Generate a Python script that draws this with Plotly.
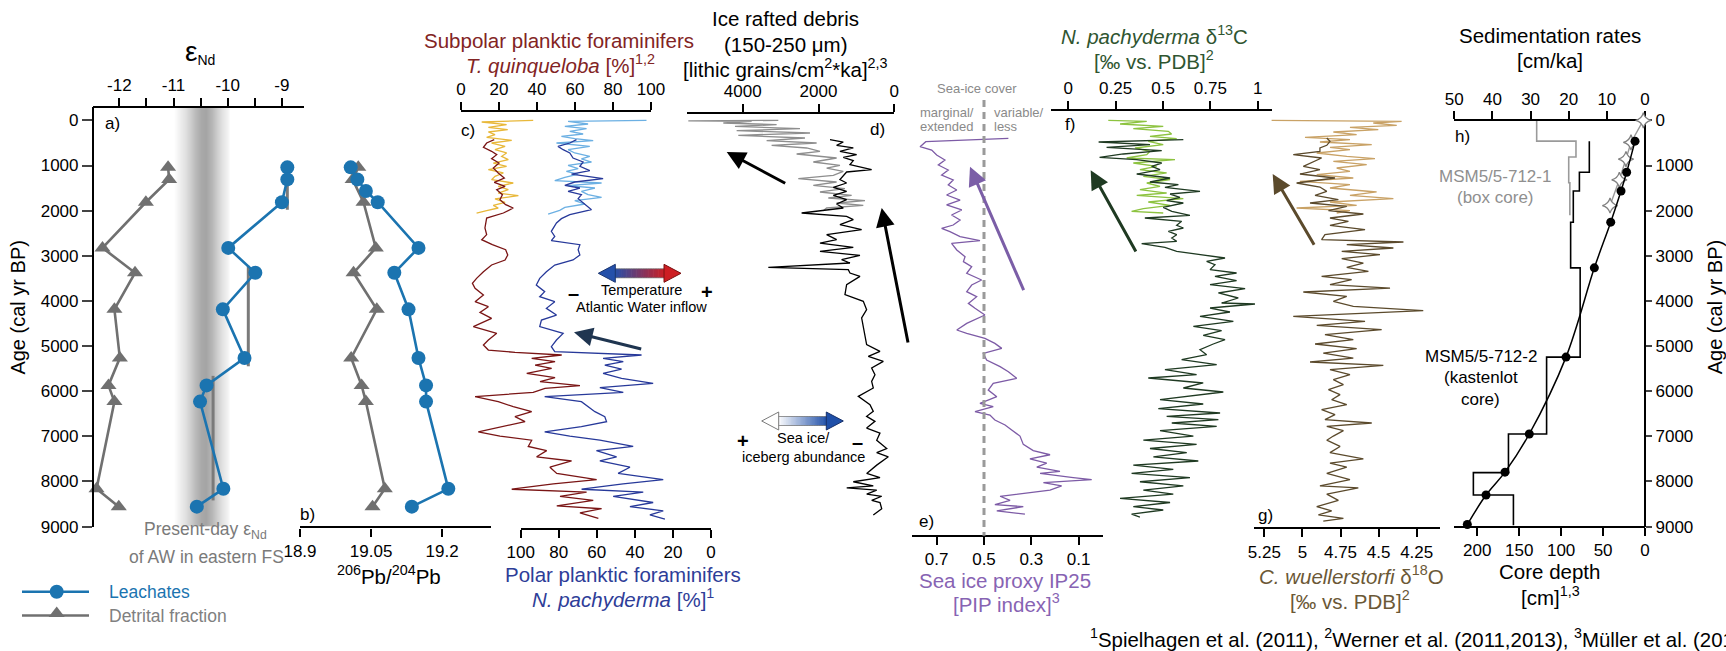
import plotly.graph_objects as go

# ---------------- DATA ----------------
# (a) eNd
a_age = [1040, 1307, 1813, 2825, 3377, 4187, 5264, 5871, 6230, 8163, 8558]
a_leach = [-8.90, -8.90, -9.00, -9.99, -9.49, -10.09, -9.69, -10.39, -10.51, -10.08, -10.57]
a_detr = [-11.10, -11.08, -11.51, -12.31, -11.71, -12.09, -11.99, -12.20, -12.09, -12.42, -12.01]
a_mean_val = [-8.90, -9.62, -10.27]
a_mean_top = [966, 3221, 5660]
a_mean_bot = [1978, 5448, 8420]
aw_band_age = [1000, 9000]
aw_band_x = [-11.0, -10.9, -10.8, -10.7, -10.6, -10.5, -10.4, -10.3, -10.2, -10.1, -10.0, -9.96]
aw_band_level = [0.0, 0.15, 0.32, 0.52, 0.75, 0.95, 1.0, 0.8, 0.55, 0.32, 0.12, 0.0]
a_ticks = [-12.5, -12, -11.5, -11, -10.5, -10, -9.5, -9]
a_ticktext = ["", "-12", "", "-11", "", "-10", "", "-9"]

# (b) 206Pb/204Pb
b_leach_age = [1040, 1307, 1564, 1813, 2825, 3377, 4187, 5264, 5871, 6230, 8163, 8558]
b_leach = [19.007, 19.021, 19.039, 19.064, 19.150, 19.099, 19.129, 19.150, 19.166, 19.166, 19.213, 19.136]
b_detr_age = [1040, 1307, 1813, 2825, 3377, 4187, 5264, 5871, 6230, 8163, 8558]
b_detr = [19.023, 19.011, 19.034, 19.060, 19.013, 19.062, 19.008, 19.030, 19.039, 19.079, 19.053]
b_ticks = [18.9, 19.05, 19.2]
b_ticktext = ["18.9", "19.05", "19.2"]

# (c) T. quinqueloba (kastenlot, box core) and N. pachyderma (kastenlot, box core)
tq_age = [427, 501, 597, 685, 759, 848, 944, 1055, 1165, 1276, 1372, 1461, 1535, 1646, 1756, 1867, 1941, 2052,
          2163, 2384, 2532, 2643, 2754, 2864, 2982, 3093, 3204, 3352, 3500, 3610, 3721, 3869, 4017, 4127, 4253,
          4386, 4570, 4718, 4866, 4977, 5088, 5139, 5198, 5272, 5346, 5420, 5494, 5605, 5700, 5789, 5878, 5937,
          6025, 6121, 6232, 6343, 6454, 6565, 6675, 6786, 6902, 6994, 7086, 7224, 7316, 7454, 7546, 7684, 7822,
          7960, 8052, 8172, 8236, 8328, 8420, 8540, 8604, 8696, 8816]
tq_val = [17.5, 13.5, 11.8, 16.1, 18.8, 16.1, 20.0, 17.0, 19.6, 22.8, 17.5, 23.2, 18.8, 21.8, 20.5, 23.5, 27.5, 22.3,
          13.5, 12.6, 13.5, 10.9, 16.5, 23.5, 24.6, 23.2, 16.1, 11.8, 8.2, 6.0, 7.4, 11.8, 7.4, 14.4, 10.0,
          16.1, 6.5, 18.8, 14.4, 11.8, 14.4, 28.4, 53.0, 37.2, 49.5, 39.0, 47.7, 34.6, 49.5, 41.6, 62.6, 44.2,
          38.0, 7.4, 19.6, 27.5, 37.2, 28.4, 33.7, 21.4, 9.1, 20.5, 37.2, 35.4, 45.1, 39.8, 58.2, 46.8, 50.4,
          71.4, 48.6, 26.7, 66.1, 52.1, 69.6, 50.4, 74.0, 62.6, 72.3]
tqb_age = [0, 35, 94, 153, 205, 257, 316, 375, 442, 501, 575, 649, 722, 796, 870, 944, 1018, 1092, 1165, 1239,
           1313, 1387, 1461, 1535, 1609, 1668, 1741, 1815, 1882, 1941, 2000, 2052]
tqb_val = [38.0, 10.9, 24.0, 14.4, 24.6, 14.4, 17.9, 13.5, 26.7, 16.1, 23.2, 17.9, 24.0, 21.4, 24.9, 17.0, 24.0,
           14.4, 22.3, 17.9, 16.1, 27.5, 19.6, 24.9, 19.6, 30.2, 17.9, 23.2, 17.0, 19.6, 13.5, 8.2]
np_age = [427, 501, 575, 649, 722, 833, 922, 1018, 1114, 1188, 1291, 1365, 1439, 1498, 1572, 1646, 1734, 1830,
          1978, 2089, 2177, 2273, 2458, 2569, 2665, 2754, 2864, 2982, 3093, 3204, 3352, 3500, 3647, 3795, 3906,
          4017, 4164, 4312, 4423, 4570, 4718, 4866, 5014, 5125, 5198, 5272, 5346, 5420, 5509, 5605, 5715, 5826,
          5922, 6025, 6121, 6232, 6343, 6454, 6565, 6675, 6786, 6902, 6994, 7086, 7224, 7316, 7454, 7546, 7684,
          7822, 7960, 8052, 8172, 8236, 8328, 8466, 8558, 8650, 8742, 8834]
np_val = [70.7, 74.2, 80.4, 77.7, 74.2, 72.5, 67.2, 68.9, 63.7, 73.3, 56.7, 71.6, 76.8, 68.9, 75.1, 68.1, 69.8, 67.2,
          62.8, 74.2, 78.6, 81.2, 83.9, 82.1, 83.9, 68.9, 69.8, 68.9, 72.5, 82.1, 86.5, 90.0, 91.8, 87.4, 90.0,
          82.1, 86.5, 81.2, 89.1, 90.0, 77.7, 81.2, 83.9, 82.1, 36.5, 56.7, 46.1, 55.8, 47.0, 56.7, 47.0, 30.4,
          58.4, 46.1, 87.4, 68.1, 64.6, 61.0, 55.8, 54.9, 68.1, 87.4, 74.2, 58.4, 40.9, 60.2, 49.6, 58.4, 42.6,
          48.8, 25.1, 46.2, 68.0, 35.6, 51.4, 30.4, 42.6, 25.1, 32.1, 24.2]
npb_age = [0, 21, 80, 131, 183, 242, 301, 353, 405, 449, 501, 575, 649, 722, 796, 855, 922, 996, 1069, 1129,
           1188, 1261, 1335, 1387, 1446, 1498, 1572, 1646, 1705, 1779, 1852, 1926, 1993, 2074]
npb_val = [33.9, 75.1, 64.6, 76.8, 65.4, 74.2, 67.2, 78.6, 71.6, 61.9, 81.2, 63.7, 75.1, 71.6, 63.7, 68.1, 62.8,
           75.1, 69.8, 76.0, 69.8, 76.8, 82.1, 57.5, 75.1, 61.0, 68.1, 64.6, 57.5, 71.6, 66.3, 76.8, 79.5, 85.6]
c_ticks = [0, 20, 40, 60, 80, 100]

# (d) IRD
ird_age = [427, 479, 552, 611, 685, 759, 818, 892, 981, 1092, 1143, 1217, 1313, 1387, 1483, 1572, 1660, 1756,
           1852, 1941, 2052, 2126, 2200, 2310, 2421, 2532, 2643, 2717, 2813, 2901, 2990, 3086, 3160, 3256, 3307,
           3381, 3455, 3640, 3861, 4009, 4194, 4378, 4600, 4969, 5117, 5228, 5339, 5486, 5634, 5782, 5929, 6114,
           6299, 6447, 6557, 6668, 6816, 6927, 7086, 7270, 7362, 7454, 7638, 7822, 7914, 8006, 8098, 8144, 8190,
           8282, 8328, 8420, 8466, 8604, 8742]
ird_val = [1697, 1346, 1522, 1082, 1434, 994, 1346, 1082, 1170, 598, 1258, 1346, 1434, 1258, 1609, 1258, 1609,
           1258, 1522, 1346, 2445, 1258, 1082, 1434, 862, 1785, 1522, 1961, 1082, 1961, 906, 1390, 1170, 3324,
           1214, 1170, 906, 1258, 1302, 818, 730, 862, 818, 730, 378, 686, 290, 598, 510, 598, 554, 950, 642,
           554, 730, 510, 730, 378, 464, 200, 464, 158, 464, 728, 377, 1082, 554, 1256, 464, 728, 332, 596, 377,
           332, 554]
irdb_age = [0, 10, 21, 58, 94, 131, 183, 227, 279, 331, 390, 449, 501, 552, 611, 685, 744, 833, 922, 996, 1055,
            1129, 1217, 1291, 1365, 1439, 1513, 1586, 1660, 1719, 1779, 1830, 1882, 1941, 2000]
irdb_val = [3060, 5435, 3764, 4512, 3105, 4204, 2489, 4160, 2225, 4116, 2357, 3369, 2049, 3237, 2313, 1961, 2577,
            1522, 2137, 1434, 1785, 1346, 1609, 2533, 1522, 2137, 1302, 1961, 1126, 1741, 774, 1522, 818, 1785,
            1873]
d_ticks = [4000, 2000, 0]

# (e) IP25 PIP index
ip_age = [397, 471, 582, 656, 767, 877, 988, 1099, 1210, 1321, 1431, 1542, 1653, 1764, 1874, 1985, 2096, 2207,
          2318, 2392, 2465, 2576, 2665, 2724, 2872, 3020, 3130, 3241, 3389, 3536, 3647, 3795, 3906, 4054, 4164,
          4312, 4497, 4644, 4718, 4829, 4940, 5051, 5162, 5309, 5457, 5568, 5715, 5826, 5974, 6121, 6269, 6343,
          6454, 6528, 6638, 6749, 6860, 6994, 7178, 7316, 7408, 7500, 7592, 7684, 7776, 7822, 7914, 7960, 8024,
          8098, 8190, 8282, 8328, 8420, 8512, 8558, 8650, 8724]
ip_val = [0.397, 0.746, 0.770, 0.721, 0.700, 0.665, 0.693, 0.651, 0.679, 0.630, 0.651, 0.615, 0.658, 0.601, 0.658,
          0.594, 0.637, 0.601, 0.630, 0.679, 0.644, 0.601, 0.517, 0.637, 0.615, 0.580, 0.587, 0.552, 0.573, 0.510,
          0.552, 0.573, 0.531, 0.566, 0.538, 0.496, 0.573, 0.615, 0.573, 0.496, 0.454, 0.425, 0.503, 0.489, 0.432,
          0.397, 0.362, 0.461, 0.482, 0.446, 0.517, 0.461, 0.538, 0.475, 0.454, 0.411, 0.383, 0.348, 0.334, 0.292,
          0.221, 0.306, 0.235, 0.277, 0.179, 0.263, 0.123, 0.045, 0.249, 0.172, 0.221, 0.348, 0.432, 0.390, 0.454,
          0.334, 0.446, 0.327]
e_ticks = [0.7, 0.5, 0.3, 0.1]
pip_threshold = 0.5

# (f) N. pachyderma d13C
d13_age = [427, 479, 538, 597, 671, 744, 818, 870, 944, 1018, 1092, 1188, 1276, 1365, 1424, 1483, 1572, 1631,
           1705, 1779, 1830, 1926, 2015, 2103, 2163, 2236, 2325, 2384, 2458, 2532, 2606, 2680, 2731, 2813, 2901,
           2975, 3049, 3123, 3197, 3307, 3381, 3455, 3551, 3640, 3728, 3824, 3935, 4046, 4068, 4157, 4245, 4341,
           4452, 4563, 4659, 4762, 4858, 4954, 5080, 5191, 5302, 5412, 5523, 5634, 5708, 5818, 5929, 6018, 6114,
           6188, 6284, 6388, 6483, 6557, 6631, 6705, 6779, 6875, 6994, 7086, 7178, 7270, 7362, 7454, 7546, 7638,
           7730, 7822, 7914, 8006, 8098, 8190, 8282, 8374, 8466, 8558, 8632, 8724, 8788]
d13_val = [0.607, 0.160, 0.431, 0.202, 0.493, 0.290, 0.165, 0.361, 0.493, 0.440, 0.484, 0.361, 0.537, 0.431, 0.581,
           0.510, 0.695, 0.537, 0.589, 0.519, 0.607, 0.501, 0.546, 0.642, 0.404, 0.598, 0.572, 0.607, 0.528, 0.572,
           0.546, 0.572, 0.387, 0.510, 0.572, 0.695, 0.827, 0.730, 0.774, 0.748, 0.888, 0.774, 0.888, 0.748, 0.933,
           0.792, 0.897, 0.809, 0.985, 0.748, 0.853, 0.695, 0.871, 0.660, 0.809, 0.712, 0.827, 0.765, 0.695, 0.730,
           0.598, 0.783, 0.510, 0.677, 0.422, 0.712, 0.607, 0.818, 0.642, 0.484, 0.712, 0.475, 0.801, 0.519, 0.792,
           0.546, 0.783, 0.484, 0.660, 0.396, 0.677, 0.431, 0.625, 0.449, 0.686, 0.343, 0.554, 0.334, 0.642, 0.378,
           0.607, 0.396, 0.554, 0.273, 0.537, 0.343, 0.501, 0.334, 0.378]
d13b_age = [0, 21, 80, 131, 183, 242, 301, 353, 405, 464, 538, 611, 685, 759, 833, 870, 944, 1018, 1092, 1165,
            1239, 1313, 1387, 1461, 1535, 1609, 1660, 1734, 1808, 1882, 1956, 2015, 2052]
d13b_val = [0.211, 0.414, 0.273, 0.501, 0.343, 0.528, 0.545, 0.431, 0.572, 0.422, 0.501, 0.352, 0.431, 0.414,
            0.308, 0.563, 0.343, 0.466, 0.378, 0.519, 0.396, 0.537, 0.414, 0.484, 0.378, 0.519, 0.361, 0.607,
            0.422, 0.537, 0.396, 0.334, 0.501]
f_ticks = [0, 0.25, 0.5, 0.75, 1]
f_ticktext = ["0", "0.25", "0.5", "0.75", "1"]

# (g) C. wuellerstorfi d18O
d18_age = [390, 464, 552, 611, 685, 759, 833, 922, 1018, 1092, 1188, 1276, 1387, 1476, 1572, 1660, 1756, 1830,
           1904, 2000, 2074, 2163, 2236, 2325, 2421, 2532, 2643, 2694, 2754, 2827, 2901, 2975, 3064, 3160, 3256,
           3344, 3455, 3529, 3640, 3714, 3802, 3898, 4009, 4120, 4216, 4341, 4452, 4541, 4637, 4748, 4858, 4954,
           5057, 5154, 5265, 5353, 5427, 5523, 5634, 5745, 5856, 5966, 6077, 6188, 6299, 6410, 6520, 6631, 6705,
           6779, 6875, 6994, 7086, 7224, 7362, 7500, 7592, 7684, 7822, 7960, 8098, 8144, 8282, 8420, 8558, 8650,
           8742, 8816, 8880]
d18_val = [4.840, 4.819, 4.840, 4.885, 4.885, 5.060, 4.874, 4.928, 4.994, 4.885, 5.016, 4.786, 5.038, 4.885, 4.840,
           4.917, 4.764, 4.950, 4.709, 4.829, 4.600, 4.819, 4.698, 4.819, 4.589, 4.852, 4.874, 4.337, 4.709, 4.403,
           4.742, 4.491, 4.742, 4.600, 4.709, 4.567, 4.874, 4.677, 4.819, 4.425, 4.994, 4.709, 4.797, 4.666, 4.207,
           5.060, 4.589, 4.906, 4.480, 4.852, 4.666, 4.917, 4.644, 4.863, 4.666, 4.950, 4.469, 4.819, 4.688, 4.797,
           4.731, 4.829, 4.753, 4.808, 4.709, 4.874, 4.786, 4.852, 4.545, 4.840, 4.731, 4.797, 4.840, 4.753, 4.819,
           4.600, 4.819, 4.709, 4.840, 4.688, 4.885, 4.633, 4.840, 4.764, 4.906, 4.808, 4.895, 4.731, 4.863]
d18b_age = [0, 21, 58, 109, 153, 205, 257, 316, 375, 427, 479, 538, 597, 649, 722, 796, 848, 907, 981, 1055, 1129,
            1202, 1276, 1350, 1424, 1498, 1586, 1660, 1734, 1808, 1882, 1941, 2000, 2052]
d18b_val = [5.202, 4.349, 4.535, 4.381, 4.688, 4.502, 4.797, 4.644, 4.983, 4.688, 4.885, 4.545, 4.819, 4.688,
            4.906, 4.709, 4.524, 4.797, 4.578, 4.775, 4.688, 4.906, 4.666, 5.016, 4.688, 4.819, 4.513, 4.688,
            4.403, 4.819, 4.644, 5.038, 4.688, 4.775]
g_ticks = [5.25, 5, 4.75, 4.5, 4.25]
g_ticktext = ["5.25", "5", "4.75", "4.5", "4.25"]

# (h) sedimentation rates and age-depth
sr_box_bounds = [0, 460, 810, 1380, 2100]
sr_box_rate = [28.4, 18.1, 20.0, 19.7]
sr_kl_bounds = [460, 1150, 1564, 2255, 3267, 5245, 6948, 7804, 8301, 8972]
sr_kl_rate = [14.6, 17.2, 18.8, 19.5, 17.0, 25.8, 35.8, 45.0, 34.5]
ad_age = [460, 1150, 1564, 2255, 3267, 5245, 6948, 7794, 8301, 8954]
ad_depth = [11.9, 21.9, 28.6, 40.9, 60.4, 94.2, 138.0, 167.0, 189.6, 211.9]
box_age = [0, 488, 856, 1316, 1886]
box_depth = [2.0, 16.7, 22.7, 30.6, 41.7]
h_top_ticks = [50, 40, 30, 20, 10, 0]
h_bot_ticks = [200, 150, 100, 50, 0]
age_ticks = [0, 1000, 2000, 3000, 4000, 5000, 6000, 7000, 8000, 9000]

# ---------------- LAYOUT HELPERS ----------------
W, H = 1726, 651
def fx(p): return p / W
def fy(p): return 1 - p / H

AGE0_PX, AGE9_PX = 120.4, 526.6
PX_PER_YR = (AGE9_PX - AGE0_PX) / 9000.0
def age_at(py): return (py - AGE0_PX) / PX_PER_YR

FONT = "Liberation Sans, Arial, Helvetica, sans-serif"
TICKF = 17

def xax(d0, d1, rng, pos_py, side, tickvals, ticktext=None):
    return dict(domain=[fx(d0), fx(d1)], range=rng, anchor="free", position=fy(pos_py), side=side,
                showline=True, linecolor="black", linewidth=2.2, ticks="outside", ticklen=8,
                tickwidth=1.5, tickcolor="black", tickvals=tickvals,
                ticktext=ticktext if ticktext is not None else [str(v) for v in tickvals],
                tickfont=dict(size=TICKF, color="black", family=FONT), showgrid=False, zeroline=False,
                fixedrange=True)

fig = go.Figure()

def line(x, y, xa, color, width=1.3, ya="y", shape="linear"):
    fig.add_trace(go.Scatter(x=x, y=y, xaxis=xa, yaxis=ya, mode="lines",
                             line=dict(color=color, width=width, shape=shape), hoverinfo="skip",
                             showlegend=False))

# (a) shading band
fig.add_trace(go.Heatmap(x=aw_band_x, y=aw_band_age, z=[aw_band_level, aw_band_level], xaxis="x", yaxis="y",
                         colorscale=[[0, "rgb(255,255,255)"], [1, "rgb(165,165,165)"]], zmin=0, zmax=1,
                         showscale=False, zsmooth="best", hoverinfo="skip"))
mx, my = [], []
for v, t, b in zip(a_mean_val, a_mean_top, a_mean_bot):
    mx += [v, v, None]
    my += [t, b, None]
line(mx, my, "x", "#7a7a7a", 3)

BLUE = "#1b74b0"
GRAY = "#707070"
for xs, ys, xa in [(a_detr, a_age, "x"), (b_detr, b_detr_age, "x2")]:
    fig.add_trace(go.Scatter(x=xs, y=ys, xaxis=xa, yaxis="y", mode="lines+markers",
                             line=dict(color=GRAY, width=2.6),
                             marker=dict(symbol="triangle-up", size=14, color=GRAY),
                             hoverinfo="skip", showlegend=False, cliponaxis=False))
for xs, ys, xa in [(a_leach, a_age, "x"), (b_leach, b_leach_age, "x2")]:
    fig.add_trace(go.Scatter(x=xs, y=ys, xaxis=xa, yaxis="y", mode="lines+markers",
                             line=dict(color=BLUE, width=2.6),
                             marker=dict(symbol="circle", size=14, color=BLUE),
                             hoverinfo="skip", showlegend=False, cliponaxis=False))

# (c)
line(tqb_val, tqb_age, "x3", "#e8b83a")
line(tq_val, tq_age, "x3", "#7a1515")
line(npb_val, npb_age, "x4", "#6cb0e3")
line(np_val, np_age, "x4", "#27399a")
# (d)
line(irdb_val, irdb_age, "x5", "#8e8e8e")
line(ird_val, ird_age, "x5", "#000000")
# (e)
line(ip_val, ip_age, "x6", "#7d5ba6")
# (f)
line(d13b_val, d13b_age, "x7", "#8dc340")
line(d13_val, d13_age, "x7", "#1f3a22")
# (g)
line(d18b_val, d18b_age, "x8", "#c9a266")
line(d18_val, d18_age, "x8", "#5b4a2c")

# (h)
def steps(bounds, rates):
    xs, ys = [], []
    for i, r in enumerate(rates):
        xs += [r, r]
        ys += [bounds[i], bounds[i + 1]]
    return xs, ys
sx, sy = steps(sr_box_bounds, sr_box_rate)
line(sx, sy, "x9", "#9a9a9a", 1.6, ya="y2")
sx, sy = steps(sr_kl_bounds, sr_kl_rate)
line(sx, sy, "x9", "#000000", 1.6, ya="y2")
fig.add_trace(go.Scatter(x=box_depth, y=box_age, xaxis="x10", yaxis="y2", mode="lines+markers",
                         line=dict(color="#9a9a9a", width=1.4),
                         marker=dict(symbol="star-diamond", size=11, color="white",
                                     line=dict(color="#808080", width=1.3)),
                         hoverinfo="skip", showlegend=False, cliponaxis=False))
fig.add_trace(go.Scatter(x=ad_depth, y=ad_age, xaxis="x10", yaxis="y2", mode="lines+markers",
                         line=dict(color="black", width=1.5, shape="spline"),
                         marker=dict(symbol="circle", size=9, color="black"),
                         hoverinfo="skip", showlegend=False, cliponaxis=False))

# legend (pixel overlay axes)
fig.add_trace(go.Scatter(x=[22, 89], y=[591.8, 591.8], xaxis="x11", yaxis="y3", mode="lines",
                         line=dict(color=BLUE, width=2.6), hoverinfo="skip", showlegend=False))
fig.add_trace(go.Scatter(x=[56.7], y=[591.8], xaxis="x11", yaxis="y3", mode="markers",
                         marker=dict(symbol="circle", size=14, color=BLUE), hoverinfo="skip", showlegend=False))
fig.add_trace(go.Scatter(x=[22, 89], y=[615.5, 615.5], xaxis="x11", yaxis="y3", mode="lines",
                         line=dict(color=GRAY, width=2.6), hoverinfo="skip", showlegend=False))
fig.add_trace(go.Scatter(x=[56.7], y=[613.5], xaxis="x11", yaxis="y3", mode="markers",
                         marker=dict(symbol="triangle-up", size=14, color=GRAY), hoverinfo="skip",
                         showlegend=False))

# ---------------- AXES ----------------
layout = dict(
    width=W, height=H, margin=dict(l=0, r=0, t=0, b=0), autosize=False,
    paper_bgcolor="white", plot_bgcolor="rgba(0,0,0,0)", template="none", hovermode=False,
    font=dict(family=FONT, color="black"), showlegend=False,
)
layout["yaxis"] = dict(domain=[fy(526.6), fy(106.7)], range=[9000, age_at(106.7)], anchor="free",
                       position=fx(93), side="left", showline=True, linecolor="black", linewidth=2.2,
                       ticks="outside", ticklen=10, tickwidth=1.5, tickvals=age_ticks,
                       ticktext=[str(v) for v in age_ticks], tickfont=dict(size=TICKF, family=FONT),
                       showgrid=False, zeroline=False, fixedrange=True)
layout["yaxis2"] = dict(domain=[fy(526.6), fy(120.4)], range=[9000, 0], anchor="free", position=fx(1645),
                        side="right", showline=True, linecolor="black", linewidth=2.2, ticks="outside",
                        ticklen=6, tickwidth=1.5, tickvals=age_ticks, ticktext=[str(v) for v in age_ticks],
                        tickfont=dict(size=TICKF, family=FONT), showgrid=False, zeroline=False,
                        fixedrange=True)
layout["yaxis3"] = dict(domain=[0, 1], range=[H, 0], visible=False, anchor="x11", fixedrange=True)
layout["xaxis11"] = dict(domain=[0, 1], range=[0, W], visible=False, anchor="y3", fixedrange=True)

a_left = -12 + (93 - 119.3) / 54.2
a_right = -12 + (304 - 119.3) / 54.2
layout["xaxis"] = xax(93, 304, [a_left, a_right], 106.7, "top", a_ticks, a_ticktext)
layout["xaxis2"] = xax(300, 491, [18.9, 18.9 + 191 / 473.9], 527.4, "bottom", b_ticks, b_ticktext)
layout["xaxis3"] = xax(461, 651, [0, 100], 111.3, "top", c_ticks)
layout["xaxis4"] = xax(520.7, 711, [100, 0], 528.7, "bottom", c_ticks)
layout["xaxis5"] = xax(687.3, 894.3, [4000 + (742.7 - 687.3) / 0.0379, 0], 113, "top", d_ticks)
layout["xaxis6"] = xax(912, 1102.7, [0.5 + (984 - 912) / 236.7, 0.5 - (1102.7 - 984) / 236.7], 535.7,
                       "bottom", e_ticks)
layout["xaxis7"] = xax(1051, 1271.7, [(1051 - 1068.3) / 189.5, (1271.7 - 1068.3) / 189.5], 110, "top",
                       f_ticks, f_ticktext)
layout["xaxis8"] = xax(1254.3, 1440, [5.25 + (1264.3 - 1254.3) / 152.4, 4.25 - (1440 - 1416.7) / 152.4],
                       528.2, "bottom", g_ticks, g_ticktext)
layout["xaxis9"] = xax(1454.3, 1645, [50, 0], 120.4, "top", h_top_ticks)
layout["xaxis10"] = xax(1454.3, 1645, [(1645 - 1454.3) / 0.8385, 0], 526.6, "bottom", h_bot_ticks)
fig.update_layout(**layout)

# ---------------- TEXT ----------------
ann = []
def txt(px, py, s, size=20, color="black", xanchor="center", angle=0, bold=False):
    ann.append(dict(x=fx(px), y=fy(py), xref="paper", yref="paper", text=("<b>%s</b>" % s) if bold else s,
                    showarrow=False, xanchor=xanchor, yanchor="middle", textangle=angle,
                    font=dict(size=size, color=color, family=FONT)))

txt(200, 52, "<span style='font-size:28px'>ε</span><sub>Nd</sub>", 20)
txt(18.3, 307.3, "Age (cal yr BP)", 20, angle=-90)
txt(1715, 307.3, "Age (cal yr BP)", 20, angle=-90)
RED_T = "#822424"; BLU_T = "#2e3d98"; PUR_T = "#8763b3"; GRN_T = "#2f5530"; BRN_T = "#6b5836"
txt(559, 40.3, "Subpolar planktic foraminifers", 20.5, RED_T)
txt(560, 64.4, "<i>T. quinqueloba</i> [%]<sup>1,2</sup>", 20.5, RED_T)
txt(623, 574.3, "Polar planktic foraminifers", 20.5, BLU_T)
txt(623, 598, "<i>N. pachyderma</i> [%]<sup>1</sup>", 20.5, BLU_T)
txt(785.7, 18.7, "Ice rafted debris", 20.5)
txt(785.7, 44.4, "(150-250 μm)", 20.5)
txt(785.5, 68.5, "[lithic grains/cm<sup>2</sup>*ka]<sup>2,3</sup>", 20.5)
txt(1005, 580, "Sea ice proxy IP25", 20.5, PUR_T)
txt(1006, 603, "[PIP index]<sup>3</sup>", 20.5, PUR_T)
txt(1154, 35.3, "<i>N. pachyderma</i> δ<sup>13</sup>C", 20.5, GRN_T)
txt(1154, 60.2, "[‰ vs. PDB]<sup>2</sup>", 20.5, GRN_T)
txt(1351, 575, "<i>C. wuellerstorfi</i> δ<sup>18</sup>O", 20.5, BRN_T)
txt(1350, 600, "[‰ vs. PDB]<sup>2</sup>", 20.5, BRN_T)
txt(1550, 35.3, "Sedimentation rates", 20.5)
txt(1550, 60.2, "[cm/ka]", 20.5)
txt(1549, 571, "Core depth", 20.5)
txt(1550, 596, "[cm]<sup>1,3</sup>", 20.5)
txt(389, 575, "<sup>206</sup>Pb/<sup>204</sup>Pb", 20.5)
txt(205, 530.7, "Present-day ε<sub>Nd</sub>", 17.5, "#7a7a7a")
txt(206.7, 556.5, "of AW in eastern FS", 17.5, "#7a7a7a")
txt(107.3, 591.8, "Leachates", 17.5, BLUE, xanchor="left")
txt(107.3, 615.5, "Detrital fraction", 17.5, "#808080", xanchor="left")
for lab, px, py in [("a)", 112.7, 123.8), ("b)", 307.3, 514), ("c)", 468.3, 130.8), ("d)", 877, 129.6),
                    ("e)", 926.7, 521), ("f)", 1070, 124.6), ("g)", 1265, 515), ("h)", 1462.7, 136.2)]:
    txt(px, py, lab, 17)
txt(977, 88.5, "Sea-ice cover", 13, "#8a8a8a")
txt(976.5, 112.7, "marginal/", 13, "#8a8a8a", xanchor="right")
txt(976.5, 126.5, "extended", 13, "#8a8a8a", xanchor="right")
txt(992.3, 112.7, "variable/", 13, "#8a8a8a", xanchor="left")
txt(992.3, 126.5, "less", 13, "#8a8a8a", xanchor="left")
txt(1495, 176.5, "MSM5/5-712-1", 17, "#8f8f8f")
txt(1495.8, 197.3, "(box core)", 17, "#8f8f8f")
txt(1480.7, 356.3, "MSM5/5-712-2", 17)
txt(1481, 377.9, "(kastenlot", 17)
txt(1480.7, 399.5, "core)", 17)
txt(641, 289.5, "Temperature", 14.5)
txt(641, 306.5, "Atlantic Water inflow", 14.5)
txt(573, 292.5, "–", 20, bold=True)
txt(707.3, 292, "+", 20, bold=True)
txt(803, 438.1, "Sea ice/", 14.5)
txt(803, 456.8, "iceberg abundance", 14.5)
txt(743.3, 440.5, "+", 20, bold=True)
txt(857.3, 442, "–", 20, bold=True)
txt(1088.3, 637.5, "<sup>1</sup>Spielhagen et al. (2011), <sup>2</sup>Werner et al. (2011,2013), "
    "<sup>3</sup>Müller et al. (2012)", 20.4, xanchor="left")

# arrows
def arrow(tail, head, color):
    ann.append(dict(x=fx(head[0]), y=fy(head[1]), xref="paper", yref="paper", ax=tail[0] - head[0],
                    ay=tail[1] - head[1], axref="pixel", ayref="pixel", text="", showarrow=True,
                    arrowhead=2, arrowsize=1.25, arrowwidth=3, arrowcolor=color, standoff=0, startstandoff=0))
arrow((642.7, 349.3), (574, 332.3), "#1f3550")
arrow((786.7, 184), (726.7, 152), "#000000")
arrow((908.3, 344), (881.7, 208), "#000000")
arrow((1024.3, 291.7), (970, 166.7), "#7b5ea7")
arrow((1136.7, 253), (1090.7, 170.3), "#1f3a22")
arrow((1315, 246.3), (1272.7, 174), "#5b4a2c")

shapes = []
# dashed PIP threshold line
shapes.append(dict(type="line", xref="x6", yref="paper", x0=pip_threshold, x1=pip_threshold,
                   y0=fy(100), y1=fy(535.7), line=dict(color="#9a9a9a", width=3, dash="7px,5px")))

def mix(c0, c1, t):
    return "rgb(%d,%d,%d)" % tuple(round(c0[i] + (c1[i] - c0[i]) * t) for i in range(3))

def grad_arrow(x0, x1, yc, c0, c1, h0, h1, outline0, outline1, n=30, hl=17, hh=9, bh=4.5):
    bx0, bx1 = x0 + hl - 1, x1 - hl + 1
    for i in range(n):
        xa = bx0 + (bx1 - bx0) * i / n
        xb = bx0 + (bx1 - bx0) * (i + 1) / n
        shapes.append(dict(type="rect", xref="paper", yref="paper", x0=fx(xa), x1=fx(xb + 0.6),
                           y0=fy(yc + bh), y1=fy(yc - bh), fillcolor=mix(c0, c1, (i + 0.5) / n),
                           line=dict(width=0), layer="above"))
    shapes.append(dict(type="rect", xref="paper", yref="paper", x0=fx(bx0), x1=fx(bx1), y0=fy(yc + bh),
                       y1=fy(yc - bh), fillcolor="rgba(0,0,0,0)", line=dict(color="#6a6a6a", width=0.7),
                       layer="above"))
    for tip, base, fill, oc in [(x0, x0 + hl, h0, outline0), (x1, x1 - hl, h1, outline1)]:
        path = "M%f,%f L%f,%f L%f,%f Z" % (fx(tip), fy(yc), fx(base), fy(yc - hh), fx(base), fy(yc + hh))
        shapes.append(dict(type="path", xref="paper", yref="paper", path=path, fillcolor=fill,
                           line=dict(color=oc, width=1), layer="above"))

grad_arrow(598.3, 681, 273.3, (36, 80, 170), (205, 30, 35), "rgb(36,80,170)", "rgb(205,30,35)",
           "#1a3570", "#7a1010")
grad_arrow(761.7, 843.3, 421, (255, 255, 255), (31, 79, 168), "rgb(255,255,255)", "rgb(31,79,168)",
           "#7a7a7a", "#17306a")

fig.update_layout(annotations=ann, shapes=shapes)
fig.write_html("out.html")
